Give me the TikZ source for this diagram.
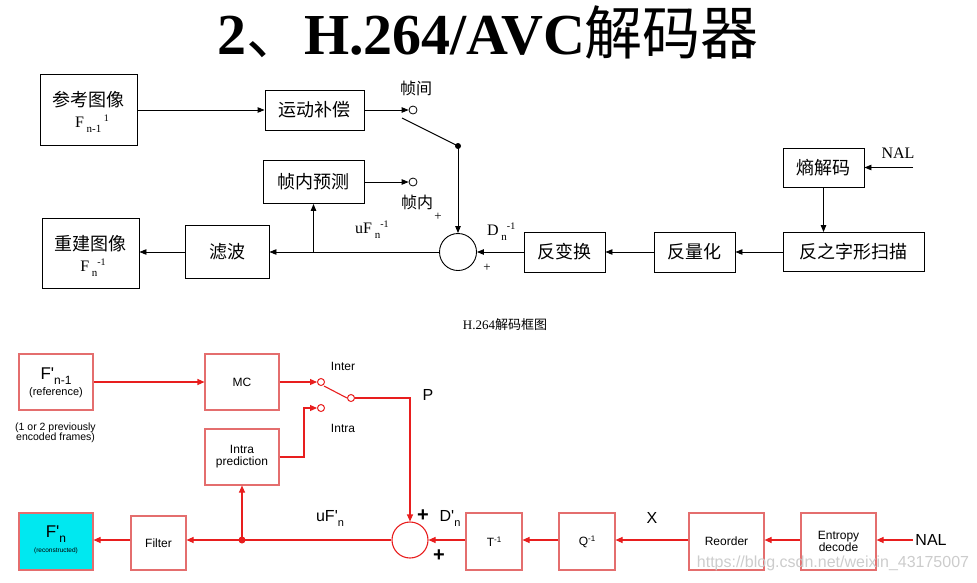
\documentclass[tikz,border=0pt]{standalone}
\usepackage{fontspec}
\setmainfont{Liberation Serif}
\setsansfont{Liberation Sans}
\newfontfamily\cjk{Noto Sans CJK SC}
\usetikzlibrary{arrows.meta}
\definecolor{rbox}{RGB}{228,110,110}
\definecolor{rline}{RGB}{232,30,30}
\definecolor{cyanf}{RGB}{0,232,240}
\newcommand\fs[1]{\fontsize{#1}{#1}\selectfont}
\newcommand\lo[3]{\raisebox{-#1pt}{\fs{#2}#3}}
\newcommand\hi[3]{\raisebox{#1pt}{\fs{#2}#3}}
\newcommand\pr{\textquotesingle}
\begin{document}
\begin{tikzpicture}[x=1pt,y=-1pt,
  kbox/.style={draw=black,line width=0.9pt,inner sep=0pt,align=center,font=\cjk\fs{18}},
  rbx/.style={draw=rbox,line width=1.1pt,inner sep=0pt,align=center,font=\sffamily\fs{12}},
  karr/.style={draw=black,line width=0.9pt,-{Triangle[length=7pt,width=5.5pt]}},
  kln/.style={draw=black,line width=0.9pt},
  rarr/.style={draw=rline,line width=1.1pt,-{Triangle[length=7pt,width=6pt]}},
  rln/.style={draw=rline,line width=1.1pt},
  lbl/.style={inner sep=0pt}]
\useasboundingbox (0,0) rectangle (977,582);

% title
\node[lbl] (title) at (488,33) {\fs{58}\bfseries 2{\cjk\mdseries 、}H.264/AVC{\cjk\mdseries 解码器}};

% ---------------- top diagram ----------------
\node[kbox,minimum width=97pt,minimum height=71pt] (ref) at (88.5,109.5) {};
\node[lbl,font=\cjk\fs{18}] (reft) at (88.5,100) {参考图像};
\node[lbl] (refF) at (92,124) {\fs{16}F\,\lo{5}{11}{n-1}\,\hi{6}{10}{1}};
\node[kbox,minimum width=99pt,minimum height=40pt] (mc) at (314.5,110) {运动补偿};
\node[kbox,minimum width=101pt,minimum height=43pt] (ip) at (313.5,182) {帧内预测};
\node[kbox,minimum width=97pt,minimum height=70pt] (rec) at (90.5,253) {};
\node[lbl,font=\cjk\fs{18}] (rect) at (90.5,244) {重建图像};
\node[lbl] (recF) at (93,268) {\fs{16}F\,\lo{5}{11}{n}\hi{6}{10}{-1}};
\node[kbox,minimum width=84pt,minimum height=53pt] (filt) at (227,252) {滤波};
\node[kbox,minimum width=81pt,minimum height=40pt] (it) at (564.5,252) {反变换};
\node[kbox,minimum width=81pt,minimum height=40pt] (iq) at (694.5,252) {反量化};
\node[kbox,minimum width=141pt,minimum height=39pt] (scan) at (853.5,252) {反之字形扫描};
\node[kbox,minimum width=81pt,minimum height=39pt] (ent) at (823.5,167.5) {熵解码};
\node[draw=black,line width=0.9pt,circle,minimum size=37pt,inner sep=0pt] (sum) at (458,252) {};

\node[draw=black,line width=0.8pt,circle,minimum size=8pt,inner sep=0pt] (swA) at (413,110) {};
\node[draw=black,line width=0.8pt,circle,minimum size=8pt,inner sep=0pt] (swB) at (413,182) {};
\node[fill=black,circle,minimum size=6pt,inner sep=0pt] (pv) at (458,146) {};
\coordinate (swS) at (402,118);
\coordinate (nalin) at (913,167.5);
\coordinate (br) at (313.5,252);

\draw[karr] (ref.east |- mc.west) -- (mc.west);
\draw[karr] (mc.east) -- (swA.west);
\draw[karr] (ip.east) -- (swB.west);
\draw[kln] (swS) -- (pv.center);
\draw[karr] (pv.center) -- (sum.north);
\draw[karr] (it.west) -- (sum.east);
\draw[karr] (iq.west) -- (it.east);
\draw[karr] (scan.west) -- (iq.east);
\draw[karr] (ent.south) -- (ent.south |- scan.north);
\draw[karr] (nalin) -- (ent.east |- nalin);
\draw[karr] (sum.west) -- (filt.east);
\draw[karr] (br) -- (ip.south);
\draw[karr] (filt.west) -- (rec.east |- filt.west);

\node[lbl,font=\cjk\fs{16}] (l1) at (416,88) {帧间};
\node[lbl,font=\cjk\fs{16}] (l2) at (417,202) {帧内};
\node[lbl,font=\fs{13}] (p1) at (438,217) {+};
\node[lbl,font=\fs{13}] (p2) at (487,268) {+};
\node[lbl,anchor=west] (uf) at (355,230) {\fs{16}uF\,\lo{5}{11}{n}\hi{6}{10}{-1}};
\node[lbl,anchor=west] (dn) at (487,232) {\fs{16}D\,\lo{5}{11}{n}\hi{6}{10}{-1}};
\node[lbl,font=\fs{16}] (nal1) at (898,153) {NAL};

\node[lbl] (cap) at (505,325) {\fs{13}H.264{\cjk 解码框图}};

% ---------------- bottom diagram ----------------
\node[rbx,minimum width=74pt,minimum height=56pt] (bref) at (56,382) {};
\node[lbl,font=\sffamily] (brefF) at (56,376) {\fs{17}F\pr\lo{5}{12}{n-1}};
\node[lbl,font=\sffamily\fs{11}] (breft) at (56,393) {(reference)};
\node[lbl,font=\sffamily\fs{10.5},align=left,anchor=west] (bprev) at (15,433) {(1 or 2 previously\\\hspace*{1pt}encoded frames)};
\node[rbx,minimum width=74pt,minimum height=56pt] (bmc) at (242,382) {MC};
\node[rbx,minimum width=74pt,minimum height=56pt] (bip) at (242,457) {Intra\\prediction};
\node[rbx,minimum width=74pt,minimum height=57pt,fill=cyanf] (brec) at (56,541.5) {};
\node[lbl,font=\sffamily] (brecF) at (56,534) {\fs{17}F\pr\lo{5}{12}{n}};
\node[lbl,font=\sffamily\fs{6.5}] (brect) at (56,551) {(reconstructed)};
\node[rbx,minimum width=55pt,minimum height=54pt] (bfilt) at (158.5,543) {Filter};
\node[rbx,minimum width=56pt,minimum height=57pt] (bt) at (494,541.5) {T\hi{4}{8}{-1}};
\node[rbx,minimum width=56pt,minimum height=57pt] (bq) at (587,541.5) {Q\hi{4}{8}{-1}};
\node[rbx,minimum width=75pt,minimum height=57pt] (bro) at (726.5,541.5) {Reorder};
\node[rbx,minimum width=75pt,minimum height=57pt] (bent) at (838.5,541.5) {Entropy\\decode};
\node[draw=rline,line width=1.1pt,circle,minimum size=36pt,inner sep=0pt] (bsum) at (410,540) {};

\node[draw=rline,line width=1pt,circle,minimum size=7pt,inner sep=0pt] (bswA) at (321,382) {};
\node[draw=rline,line width=1pt,circle,minimum size=7pt,inner sep=0pt] (bswB) at (321,408) {};
\node[draw=rline,line width=1pt,circle,minimum size=7pt,inner sep=0pt] (bpv) at (351,398) {};
\node[fill=rline,circle,minimum size=7pt,inner sep=0pt] (bdot) at (242,540) {};
\coordinate (bswS) at (324,386);
\coordinate (bnal) at (913,540);
\coordinate (bturn) at (304,457);

\draw[rarr] (bref.east |- bmc.west) -- (bmc.west);
\draw[rarr] (bmc.east |- bswA.west) -- (bswA.west);
\draw[rln] (bswS) -- (bpv.west);
\draw[rarr] (bpv.east) -| (bsum.north);
\draw[rarr] (bip.east) -| (bturn |- bswB) -- (bswB.west);
\draw[rarr] (bnal) -- (bent.east |- bnal);
\draw[rarr] (bent.west |- bnal) -- (bro.east |- bnal);
\draw[rarr] (bro.west |- bnal) -- (bq.east |- bnal);
\draw[rarr] (bq.west |- bnal) -- (bt.east |- bnal);
\draw[rarr] (bt.west |- bnal) -- (bsum.east);
\draw[rarr] (bsum.west) -- (bfilt.east |- bsum.west);
\draw[rarr] (bfilt.west |- bsum.west) -- (brec.east |- bsum.west);
\draw[rarr] (bdot.center) -- (bip.south);

\node[lbl,font=\sffamily\fs{12}] (binter) at (343,366) {Inter};
\node[lbl,font=\sffamily\fs{12}] (bintra) at (343,428) {Intra};
\node[lbl,font=\sffamily\fs{16}] (bP) at (428,395) {P};
\node[lbl,font=\sffamily\bfseries\fs{20}] (bp1) at (423,516) {+};
\node[lbl,font=\sffamily\bfseries\fs{20}] (bp2) at (439,556) {+};
\node[lbl,font=\sffamily] (buf) at (330,518) {\fs{16}uF\pr\lo{5}{11}{n}};
\node[lbl,font=\sffamily] (bdn) at (450,518) {\fs{16}D\pr\lo{5}{11}{n}};
\node[lbl,font=\sffamily\fs{16}] (bX) at (652,518) {X};
\node[lbl,font=\sffamily\fs{16}] (bNAL) at (931,540) {NAL};
\node[lbl,font=\sffamily\fs{16},text=black!20] (wm) at (833,563) {https://blog.csdn.net/weixin\_43175007};
\end{tikzpicture}
\end{document}
